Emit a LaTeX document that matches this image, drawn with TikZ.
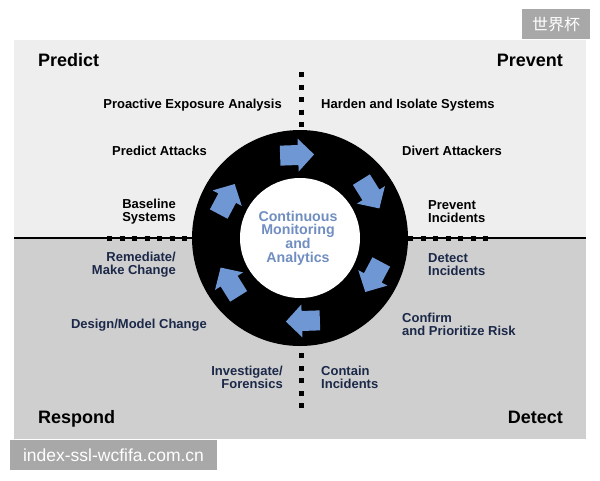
\documentclass[tikz,border=0pt]{standalone}
\usepackage{fontspec}
\setmainfont{Liberation Sans}
\newfontfamily\cjkfont{Noto Sans CJK SC}
\usepackage{xcolor}
\definecolor{panelhi}{HTML}{EEEEEE}
\definecolor{panello}{HTML}{CFCFCF}
\definecolor{arrowblue}{RGB}{111,151,211}
\definecolor{hubtext}{RGB}{112,142,192}
\definecolor{navytext}{RGB}{27,40,72}
\definecolor{markgray}{HTML}{A8A8A8}

\begin{document}
\begin{tikzpicture}[
  x=1pt, y=-1pt,
  quad/.style={font=\fontsize{18}{18}\bfseries, inner sep=0pt},
  act/.style={font=\fontsize{13}{13}\bfseries, inner sep=0pt},
  lowact/.style={act, text=navytext},
  dotline/.style={line width=5pt, dash pattern=on 5pt off 7.5pt},
  flowarrow/.pic={
    \fill[arrowblue] (-17,-10) -- (1,-10) -- (1,-16.5) -- (17,0)
      -- (1,16.5) -- (1,10) -- (-17,10) -- cycle;}
]
  \useasboundingbox (0,0) rectangle (600,480);

  % 背景パネル
  \fill[panelhi] (14,40) rectangle (586,238);
  \fill[panello] (14,238) rectangle (586,439);

  % 区切り線
  \coordinate (ctr) at (300,238);
  \coordinate (wl) at (14,238);
  \coordinate (wr) at (586,238);
  \draw[line width=1.2pt] (wl) -- (wr);

  % 点線
  \coordinate (dotW) at (107,238);
  \coordinate (dotE) at (488,238);
  \coordinate (dotN) at (301,72);
  \coordinate (dotS) at (301,408);
  \draw[dotline] (dotW) -- (ctr);
  \draw[dotline] (dotE) -- (ctr);
  \draw[dotline] (dotN) -- (301,238);
  \draw[dotline] (dotS) -- (301,238);

  % 中央のリング
  \node[circle, fill=black, minimum size=216pt, inner sep=0pt] (ring) at (ctr) {};
  \node[circle, fill=white, minimum size=120pt, inner sep=0pt] (hub) at (ctr) {};
  \node[text=hubtext, align=center, inner sep=0pt, font=\fontsize{14.2}{13.6}\bfseries]
    (hubtitle) at (298,238) {Continuous\\Monitoring\\and\\Analytics};

  % 循環の矢印
  \begin{scope}[shift={(ctr)}, y=1pt]
    \foreach \ang in {92,32,-28,-88,-148,152}
      \pic[rotate=\ang-90] at (\ang:83) {flowarrow};
  \end{scope}

  % 四象限
  \node[quad, anchor=base west] (predict) at (38,66) {Predict};
  \node[quad, anchor=base east] (prevent) at (563,66) {Prevent};
  \node[quad, anchor=base west] (respond) at (38,423) {Respond};
  \node[quad, anchor=base east] (detect) at (563,423) {Detect};

  % 上半分
  \node[act, anchor=base east] (proactive) at (282,108) {Proactive Exposure Analysis};
  \node[act, anchor=base west] (harden) at (321,108) {Harden and Isolate Systems};
  \node[act, anchor=base east] (predatk) at (207,155.5) {Predict Attacks};
  \node[act, anchor=base west] (divert) at (402,155.5) {Divert Attackers};
  \node[act, anchor=east, align=right] (baseline) at (176,212) {Baseline\\Systems};
  \node[act, anchor=west, align=left] (previnc) at (428,212) {Prevent\\Incidents};

  % 下半分
  \node[lowact, anchor=east, align=right] (remediate) at (176,265) {Remediate/\\Make Change};
  \node[lowact, anchor=west, align=left] (detinc) at (428,265) {Detect\\Incidents};
  \node[lowact, anchor=base east] (design) at (207,328.5) {Design/Model Change};
  \node[lowact, anchor=west, align=left] (confirm) at (402,324) {Confirm\\and Prioritize Risk};
  \node[lowact, anchor=east, align=right] (investigate) at (283,377) {Investigate/\\Forensics};
  \node[lowact, anchor=west, align=left] (contain) at (321,377) {Contain\\Incidents};

  % 透かし
  \node[fill=markgray, text=white, font=\cjkfont\fontsize{16}{16}\selectfont,
    minimum width=68pt, minimum height=30pt, inner sep=0pt] (markcn) at (556,24) {世界杯};
  \node[fill=markgray, text=white, font=\fontsize{17.5}{17.5}\selectfont,
    minimum width=207pt, minimum height=30pt, inner sep=0pt] (markurl) at (113.5,455)
    {index-ssl-wcfifa.com.cn};
\end{tikzpicture}
\end{document}
